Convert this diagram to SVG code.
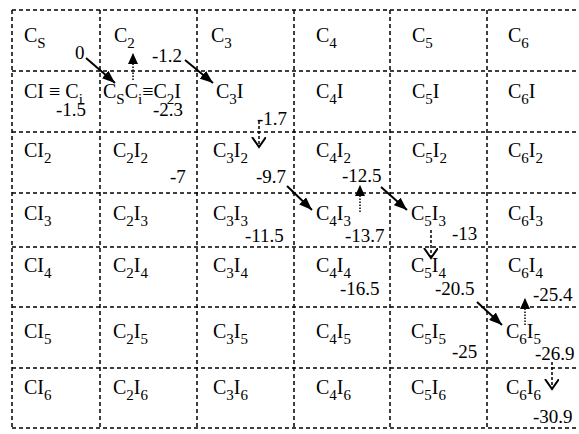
<svg xmlns="http://www.w3.org/2000/svg" width="579" height="434" viewBox="0 0 579 434">
<defs>
<style>
text{font-family:'Liberation Serif','Times New Roman',serif;fill:#000}
.l{font-size:20px}
.s{font-size:15px}
.n{font-size:19px}
.grid line{stroke:#000;stroke-width:1.5;stroke-dasharray:4,3}
.solid{stroke:#000;stroke-width:2;fill:none;marker-end:url(#hs)}
.up{stroke:#000;stroke-width:1.5;stroke-dasharray:1.5,1.5;fill:none;marker-end:url(#hs2)}
.down{stroke:#000;stroke-width:1.5;stroke-dasharray:3,2;fill:none;marker-end:url(#hv)}
</style>
<marker id="hs" markerUnits="userSpaceOnUse" markerWidth="14" markerHeight="10" refX="13" refY="5" orient="auto"><path d="M0,0 L13,5 L0,10 z" fill="#000"/></marker>
<marker id="hs2" markerUnits="userSpaceOnUse" markerWidth="12" markerHeight="10" refX="11" refY="5" orient="auto"><path d="M0,0 L11,5 L0,10 z" fill="#000"/></marker>
<marker id="hv" markerUnits="userSpaceOnUse" markerWidth="12" markerHeight="16" refX="10" refY="7" orient="auto"><path d="M0,0 L10,7 L0,14" fill="none" stroke="#000" stroke-width="2"/></marker>
</defs>
<rect width="579" height="434" fill="#fff"/>
<g class="grid">
<line x1="12" y1="10" x2="579" y2="10"/>
<line x1="12" y1="71" x2="579" y2="71"/>
<line x1="12" y1="132" x2="579" y2="132"/>
<line x1="12" y1="193" x2="579" y2="193"/>
<line x1="12" y1="247" x2="579" y2="247"/>
<line x1="12" y1="307" x2="579" y2="307"/>
<line x1="12" y1="368" x2="579" y2="368"/>
<line x1="12" y1="428" x2="579" y2="428"/>
<line x1="12" y1="10" x2="12" y2="428"/>
<line x1="100" y1="10" x2="100" y2="428"/>
<line x1="197" y1="10" x2="197" y2="428"/>
<line x1="294" y1="10" x2="294" y2="428"/>
<line x1="390" y1="10" x2="390" y2="428"/>
<line x1="487" y1="10" x2="487" y2="428"/>
</g>
<g id="cells">
<g id="row1">
<g id="c1_1"><text class="l" x="24" y="42">C<tspan class="s" dy="6">S</tspan></text></g>
<g id="c1_2"><text class="l" x="114" y="42">C<tspan class="s" dy="6">2</tspan></text></g>
<g id="c1_3"><text class="l" x="211" y="42">C<tspan class="s" dy="6">3</tspan></text></g>
<g id="c1_4"><text class="l" x="316" y="42">C<tspan class="s" dy="6">4</tspan></text></g>
<g id="c1_5"><text class="l" x="412" y="42">C<tspan class="s" dy="6">5</tspan></text></g>
<g id="c1_6"><text class="l" x="508" y="42">C<tspan class="s" dy="6">6</tspan></text></g>
</g>
<g id="row2">
<g id="c2_1"><text class="l" x="24" y="98">CI ≡ C<tspan class="s" dy="6">i</tspan></text><text class="n" x="56" y="116">-1.5</text></g>
<g id="c2_2"><text class="l" x="103" y="98">C<tspan class="s" dy="6">S</tspan><tspan dy="-6">C</tspan><tspan class="s" dy="6">i</tspan><tspan dy="-6">≡C</tspan><tspan class="s" dy="6">2</tspan><tspan dy="-6">I</tspan></text><text class="n" x="153" y="116">-2.3</text></g>
<g id="c2_3"><text class="l" x="216" y="98">C<tspan class="s" dy="6">3</tspan><tspan dy="-6">I</tspan></text><text class="n" x="257" y="125">-1.7</text></g>
<g id="c2_4"><text class="l" x="316" y="98">C<tspan class="s" dy="6">4</tspan><tspan dy="-6">I</tspan></text></g>
<g id="c2_5"><text class="l" x="412" y="98">C<tspan class="s" dy="6">5</tspan><tspan dy="-6">I</tspan></text></g>
<g id="c2_6"><text class="l" x="508" y="98">C<tspan class="s" dy="6">6</tspan><tspan dy="-6">I</tspan></text></g>
</g>
<g id="row3">
<g id="c3_1"><text class="l" x="24" y="157">CI<tspan class="s" dy="6">2</tspan></text></g>
<g id="c3_2"><text class="l" x="113" y="157">C<tspan class="s" dy="6">2</tspan><tspan dy="-6">I</tspan><tspan class="s" dy="6">2</tspan></text><text class="n" x="170" y="183">-7</text></g>
<g id="c3_3"><text class="l" x="213" y="157">C<tspan class="s" dy="6">3</tspan><tspan dy="-6">I</tspan><tspan class="s" dy="6">2</tspan></text><text class="n" x="256" y="183">-9.7</text></g>
<g id="c3_4"><text class="l" x="316" y="157">C<tspan class="s" dy="6">4</tspan><tspan dy="-6">I</tspan><tspan class="s" dy="6">2</tspan></text><text class="n" x="342" y="182">-12.5</text></g>
<g id="c3_5"><text class="l" x="412" y="157">C<tspan class="s" dy="6">5</tspan><tspan dy="-6">I</tspan><tspan class="s" dy="6">2</tspan></text></g>
<g id="c3_6"><text class="l" x="508" y="157">C<tspan class="s" dy="6">6</tspan><tspan dy="-6">I</tspan><tspan class="s" dy="6">2</tspan></text></g>
</g>
<g id="row4">
<g id="c4_1"><text class="l" x="24" y="220">CI<tspan class="s" dy="6">3</tspan></text></g>
<g id="c4_2"><text class="l" x="113" y="220">C<tspan class="s" dy="6">2</tspan><tspan dy="-6">I</tspan><tspan class="s" dy="6">3</tspan></text></g>
<g id="c4_3"><text class="l" x="213" y="220">C<tspan class="s" dy="6">3</tspan><tspan dy="-6">I</tspan><tspan class="s" dy="6">3</tspan></text><text class="n" x="245" y="242">-11.5</text></g>
<g id="c4_4"><text class="l" x="316" y="220">C<tspan class="s" dy="6">4</tspan><tspan dy="-6">I</tspan><tspan class="s" dy="6">3</tspan></text><text class="n" x="345" y="242">-13.7</text></g>
<g id="c4_5"><text class="l" x="411" y="220">C<tspan class="s" dy="6">5</tspan><tspan dy="-6">I</tspan><tspan class="s" dy="6">3</tspan></text><text class="n" x="452" y="240">-13</text></g>
<g id="c4_6"><text class="l" x="508" y="220">C<tspan class="s" dy="6">6</tspan><tspan dy="-6">I</tspan><tspan class="s" dy="6">3</tspan></text></g>
</g>
<g id="row5">
<g id="c5_1"><text class="l" x="24" y="272">CI<tspan class="s" dy="6">4</tspan></text></g>
<g id="c5_2"><text class="l" x="113" y="272">C<tspan class="s" dy="6">2</tspan><tspan dy="-6">I</tspan><tspan class="s" dy="6">4</tspan></text></g>
<g id="c5_3"><text class="l" x="213" y="272">C<tspan class="s" dy="6">3</tspan><tspan dy="-6">I</tspan><tspan class="s" dy="6">4</tspan></text></g>
<g id="c5_4"><text class="l" x="316" y="272">C<tspan class="s" dy="6">4</tspan><tspan dy="-6">I</tspan><tspan class="s" dy="6">4</tspan></text><text class="n" x="340" y="295">-16.5</text></g>
<g id="c5_5"><text class="l" x="411" y="272">C<tspan class="s" dy="6">5</tspan><tspan dy="-6">I</tspan><tspan class="s" dy="6">4</tspan></text><text class="n" x="435" y="295">-20.5</text></g>
<g id="c5_6"><text class="l" x="508" y="272">C<tspan class="s" dy="6">6</tspan><tspan dy="-6">I</tspan><tspan class="s" dy="6">4</tspan></text><text class="n" x="533" y="301">-25.4</text></g>
</g>
<g id="row6">
<g id="c6_1"><text class="l" x="24" y="338">CI<tspan class="s" dy="6">5</tspan></text></g>
<g id="c6_2"><text class="l" x="113" y="338">C<tspan class="s" dy="6">2</tspan><tspan dy="-6">I</tspan><tspan class="s" dy="6">5</tspan></text></g>
<g id="c6_3"><text class="l" x="213" y="338">C<tspan class="s" dy="6">3</tspan><tspan dy="-6">I</tspan><tspan class="s" dy="6">5</tspan></text></g>
<g id="c6_4"><text class="l" x="316" y="338">C<tspan class="s" dy="6">4</tspan><tspan dy="-6">I</tspan><tspan class="s" dy="6">5</tspan></text></g>
<g id="c6_5"><text class="l" x="411" y="338">C<tspan class="s" dy="6">5</tspan><tspan dy="-6">I</tspan><tspan class="s" dy="6">5</tspan></text><text class="n" x="452" y="358">-25</text></g>
<g id="c6_6"><text class="l" x="506" y="338">C<tspan class="s" dy="6">6</tspan><tspan dy="-6">I</tspan><tspan class="s" dy="6">5</tspan></text><text class="n" x="535" y="360">-26.9</text></g>
</g>
<g id="row7">
<g id="c7_1"><text class="l" x="24" y="394">CI<tspan class="s" dy="6">6</tspan></text></g>
<g id="c7_2"><text class="l" x="113" y="394">C<tspan class="s" dy="6">2</tspan><tspan dy="-6">I</tspan><tspan class="s" dy="6">6</tspan></text></g>
<g id="c7_3"><text class="l" x="213" y="394">C<tspan class="s" dy="6">3</tspan><tspan dy="-6">I</tspan><tspan class="s" dy="6">6</tspan></text></g>
<g id="c7_4"><text class="l" x="316" y="394">C<tspan class="s" dy="6">4</tspan><tspan dy="-6">I</tspan><tspan class="s" dy="6">6</tspan></text></g>
<g id="c7_5"><text class="l" x="411" y="394">C<tspan class="s" dy="6">5</tspan><tspan dy="-6">I</tspan><tspan class="s" dy="6">6</tspan></text></g>
<g id="c7_6"><text class="l" x="506" y="394">C<tspan class="s" dy="6">6</tspan><tspan dy="-6">I</tspan><tspan class="s" dy="6">6</tspan></text><text class="n" x="533" y="423">-30.9</text></g>
</g>
<g id="start-label"><text class="n" x="75" y="59">0</text><text class="n" x="152" y="62">-1.2</text></g>
</g>
<g id="connectors">
<line class="solid" x1="86" y1="58" x2="115" y2="83"/>
<line class="solid" x1="185" y1="60" x2="213" y2="83"/>
<line class="solid" x1="287" y1="186" x2="312" y2="210"/>
<line class="solid" x1="381" y1="187" x2="407" y2="210"/>
<line class="solid" x1="477" y1="302" x2="502" y2="325"/>
<line class="up" x1="133" y1="80" x2="133" y2="53"/>
<line class="up" x1="360" y1="212" x2="360" y2="185"/>
<line class="up" x1="525" y1="325" x2="525" y2="298"/>
<line class="down" x1="259" y1="121" x2="259" y2="147"/>
<line class="down" x1="431" y1="230" x2="431" y2="258"/>
<line class="down" x1="552" y1="362" x2="552" y2="389"/>
</g>
</svg>
